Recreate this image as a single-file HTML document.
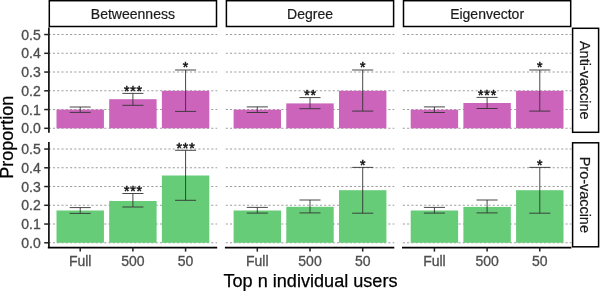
<!DOCTYPE html><html><head><meta charset="utf-8"><style>html,body{margin:0;padding:0;background:#fff;width:600px;height:291px;overflow:hidden}svg{display:block}text{font-family:"Liberation Sans",Arial,sans-serif}</style></head><body>
<svg width="600" height="291" viewBox="0 0 600 291">
<line x1="48.60" y1="128.30" x2="217.20" y2="128.30" stroke="#9e9e9e" stroke-width="1.1" stroke-dasharray="2.14 2.14"/>
<line x1="48.60" y1="109.55" x2="217.20" y2="109.55" stroke="#9e9e9e" stroke-width="1.1" stroke-dasharray="2.14 2.14"/>
<line x1="48.60" y1="90.80" x2="217.20" y2="90.80" stroke="#9e9e9e" stroke-width="1.1" stroke-dasharray="2.14 2.14"/>
<line x1="48.60" y1="72.05" x2="217.20" y2="72.05" stroke="#9e9e9e" stroke-width="1.1" stroke-dasharray="2.14 2.14"/>
<line x1="48.60" y1="53.30" x2="217.20" y2="53.30" stroke="#9e9e9e" stroke-width="1.1" stroke-dasharray="2.14 2.14"/>
<line x1="48.60" y1="34.55" x2="217.20" y2="34.55" stroke="#9e9e9e" stroke-width="1.1" stroke-dasharray="2.14 2.14"/>
<line x1="225.70" y1="128.30" x2="394.30" y2="128.30" stroke="#9e9e9e" stroke-width="1.1" stroke-dasharray="2.14 2.14"/>
<line x1="225.70" y1="109.55" x2="394.30" y2="109.55" stroke="#9e9e9e" stroke-width="1.1" stroke-dasharray="2.14 2.14"/>
<line x1="225.70" y1="90.80" x2="394.30" y2="90.80" stroke="#9e9e9e" stroke-width="1.1" stroke-dasharray="2.14 2.14"/>
<line x1="225.70" y1="72.05" x2="394.30" y2="72.05" stroke="#9e9e9e" stroke-width="1.1" stroke-dasharray="2.14 2.14"/>
<line x1="225.70" y1="53.30" x2="394.30" y2="53.30" stroke="#9e9e9e" stroke-width="1.1" stroke-dasharray="2.14 2.14"/>
<line x1="225.70" y1="34.55" x2="394.30" y2="34.55" stroke="#9e9e9e" stroke-width="1.1" stroke-dasharray="2.14 2.14"/>
<line x1="402.80" y1="128.30" x2="571.40" y2="128.30" stroke="#9e9e9e" stroke-width="1.1" stroke-dasharray="2.14 2.14"/>
<line x1="402.80" y1="109.55" x2="571.40" y2="109.55" stroke="#9e9e9e" stroke-width="1.1" stroke-dasharray="2.14 2.14"/>
<line x1="402.80" y1="90.80" x2="571.40" y2="90.80" stroke="#9e9e9e" stroke-width="1.1" stroke-dasharray="2.14 2.14"/>
<line x1="402.80" y1="72.05" x2="571.40" y2="72.05" stroke="#9e9e9e" stroke-width="1.1" stroke-dasharray="2.14 2.14"/>
<line x1="402.80" y1="53.30" x2="571.40" y2="53.30" stroke="#9e9e9e" stroke-width="1.1" stroke-dasharray="2.14 2.14"/>
<line x1="402.80" y1="34.55" x2="571.40" y2="34.55" stroke="#9e9e9e" stroke-width="1.1" stroke-dasharray="2.14 2.14"/>
<line x1="48.60" y1="242.80" x2="217.20" y2="242.80" stroke="#9e9e9e" stroke-width="1.1" stroke-dasharray="2.14 2.14"/>
<line x1="48.60" y1="224.05" x2="217.20" y2="224.05" stroke="#9e9e9e" stroke-width="1.1" stroke-dasharray="2.14 2.14"/>
<line x1="48.60" y1="205.30" x2="217.20" y2="205.30" stroke="#9e9e9e" stroke-width="1.1" stroke-dasharray="2.14 2.14"/>
<line x1="48.60" y1="186.55" x2="217.20" y2="186.55" stroke="#9e9e9e" stroke-width="1.1" stroke-dasharray="2.14 2.14"/>
<line x1="48.60" y1="167.80" x2="217.20" y2="167.80" stroke="#9e9e9e" stroke-width="1.1" stroke-dasharray="2.14 2.14"/>
<line x1="48.60" y1="149.05" x2="217.20" y2="149.05" stroke="#9e9e9e" stroke-width="1.1" stroke-dasharray="2.14 2.14"/>
<line x1="225.70" y1="242.80" x2="394.30" y2="242.80" stroke="#9e9e9e" stroke-width="1.1" stroke-dasharray="2.14 2.14"/>
<line x1="225.70" y1="224.05" x2="394.30" y2="224.05" stroke="#9e9e9e" stroke-width="1.1" stroke-dasharray="2.14 2.14"/>
<line x1="225.70" y1="205.30" x2="394.30" y2="205.30" stroke="#9e9e9e" stroke-width="1.1" stroke-dasharray="2.14 2.14"/>
<line x1="225.70" y1="186.55" x2="394.30" y2="186.55" stroke="#9e9e9e" stroke-width="1.1" stroke-dasharray="2.14 2.14"/>
<line x1="225.70" y1="167.80" x2="394.30" y2="167.80" stroke="#9e9e9e" stroke-width="1.1" stroke-dasharray="2.14 2.14"/>
<line x1="225.70" y1="149.05" x2="394.30" y2="149.05" stroke="#9e9e9e" stroke-width="1.1" stroke-dasharray="2.14 2.14"/>
<line x1="402.80" y1="242.80" x2="571.40" y2="242.80" stroke="#9e9e9e" stroke-width="1.1" stroke-dasharray="2.14 2.14"/>
<line x1="402.80" y1="224.05" x2="571.40" y2="224.05" stroke="#9e9e9e" stroke-width="1.1" stroke-dasharray="2.14 2.14"/>
<line x1="402.80" y1="205.30" x2="571.40" y2="205.30" stroke="#9e9e9e" stroke-width="1.1" stroke-dasharray="2.14 2.14"/>
<line x1="402.80" y1="186.55" x2="571.40" y2="186.55" stroke="#9e9e9e" stroke-width="1.1" stroke-dasharray="2.14 2.14"/>
<line x1="402.80" y1="167.80" x2="571.40" y2="167.80" stroke="#9e9e9e" stroke-width="1.1" stroke-dasharray="2.14 2.14"/>
<line x1="402.80" y1="149.05" x2="571.40" y2="149.05" stroke="#9e9e9e" stroke-width="1.1" stroke-dasharray="2.14 2.14"/>
<rect x="56.50" y="109.60" width="47.42" height="18.70" fill="#CC64BC"/>
<rect x="109.19" y="99.20" width="47.42" height="29.10" fill="#CC64BC"/>
<rect x="161.88" y="90.80" width="47.42" height="37.50" fill="#CC64BC"/>
<rect x="233.60" y="109.70" width="47.42" height="18.60" fill="#CC64BC"/>
<rect x="286.29" y="103.40" width="47.42" height="24.90" fill="#CC64BC"/>
<rect x="338.98" y="90.80" width="47.42" height="37.50" fill="#CC64BC"/>
<rect x="410.70" y="109.70" width="47.42" height="18.60" fill="#CC64BC"/>
<rect x="463.39" y="103.00" width="47.42" height="25.30" fill="#CC64BC"/>
<rect x="516.08" y="90.80" width="47.42" height="37.50" fill="#CC64BC"/>
<rect x="56.50" y="210.50" width="47.42" height="32.30" fill="#66CC78"/>
<rect x="109.19" y="201.00" width="47.42" height="41.80" fill="#66CC78"/>
<rect x="161.88" y="175.50" width="47.42" height="67.30" fill="#66CC78"/>
<rect x="233.60" y="210.50" width="47.42" height="32.30" fill="#66CC78"/>
<rect x="286.29" y="206.80" width="47.42" height="36.00" fill="#66CC78"/>
<rect x="338.98" y="190.20" width="47.42" height="52.60" fill="#66CC78"/>
<rect x="410.70" y="210.50" width="47.42" height="32.30" fill="#66CC78"/>
<rect x="463.39" y="206.90" width="47.42" height="35.90" fill="#66CC78"/>
<rect x="516.08" y="190.20" width="47.42" height="52.60" fill="#66CC78"/>
<path d="M69.67 107.00H90.75M80.21 107.00V112.40M69.67 112.40H90.75" stroke="#333" stroke-width="0.9" fill="none"/>
<path d="M122.36 93.40H143.44M132.90 93.40V105.30M122.36 105.30H143.44" stroke="#333" stroke-width="0.9" fill="none"/>
<text x="133.33" y="95.68" font-size="14" letter-spacing="0.85" text-anchor="middle" fill="#111" stroke="#111" stroke-width="0.5">***</text>
<path d="M175.05 70.00H196.12M185.59 70.00V111.40M175.05 111.40H196.12" stroke="#333" stroke-width="0.9" fill="none"/>
<text x="186.01" y="72.28" font-size="14" letter-spacing="0.85" text-anchor="middle" fill="#111" stroke="#111" stroke-width="0.5">*</text>
<path d="M246.78 106.90H267.85M257.31 106.90V112.50M246.78 112.50H267.85" stroke="#333" stroke-width="0.9" fill="none"/>
<path d="M299.46 97.60H320.54M310.00 97.60V108.70M299.46 108.70H320.54" stroke="#333" stroke-width="0.9" fill="none"/>
<text x="310.43" y="99.88" font-size="14" letter-spacing="0.85" text-anchor="middle" fill="#111" stroke="#111" stroke-width="0.5">**</text>
<path d="M352.15 70.00H373.23M362.69 70.00V111.10M352.15 111.10H373.23" stroke="#333" stroke-width="0.9" fill="none"/>
<text x="363.11" y="72.28" font-size="14" letter-spacing="0.85" text-anchor="middle" fill="#111" stroke="#111" stroke-width="0.5">*</text>
<path d="M423.88 106.90H444.95M434.41 106.90V112.50M423.88 112.50H444.95" stroke="#333" stroke-width="0.9" fill="none"/>
<path d="M476.56 97.40H497.64M487.10 97.40V108.50M476.56 108.50H497.64" stroke="#333" stroke-width="0.9" fill="none"/>
<text x="487.53" y="99.68" font-size="14" letter-spacing="0.85" text-anchor="middle" fill="#111" stroke="#111" stroke-width="0.5">***</text>
<path d="M529.25 70.00H550.33M539.79 70.00V111.10M529.25 111.10H550.33" stroke="#333" stroke-width="0.9" fill="none"/>
<text x="540.21" y="72.28" font-size="14" letter-spacing="0.85" text-anchor="middle" fill="#111" stroke="#111" stroke-width="0.5">*</text>
<path d="M69.67 207.60H90.75M80.21 207.60V213.40M69.67 213.40H90.75" stroke="#333" stroke-width="0.9" fill="none"/>
<path d="M122.36 193.50H143.44M132.90 193.50V207.00M122.36 207.00H143.44" stroke="#333" stroke-width="0.9" fill="none"/>
<text x="133.33" y="195.78" font-size="14" letter-spacing="0.85" text-anchor="middle" fill="#111" stroke="#111" stroke-width="0.5">***</text>
<path d="M175.05 150.30H196.12M185.59 150.30V200.30M175.05 200.30H196.12" stroke="#333" stroke-width="0.9" fill="none"/>
<text x="186.01" y="152.58" font-size="14" letter-spacing="0.85" text-anchor="middle" fill="#111" stroke="#111" stroke-width="0.5">***</text>
<path d="M246.78 207.40H267.85M257.31 207.40V213.10M246.78 213.10H267.85" stroke="#333" stroke-width="0.9" fill="none"/>
<path d="M299.46 200.00H320.54M310.00 200.00V212.90M299.46 212.90H320.54" stroke="#333" stroke-width="0.9" fill="none"/>
<path d="M352.15 167.40H373.23M362.69 167.40V213.20M352.15 213.20H373.23" stroke="#333" stroke-width="0.9" fill="none"/>
<text x="363.11" y="169.68" font-size="14" letter-spacing="0.85" text-anchor="middle" fill="#111" stroke="#111" stroke-width="0.5">*</text>
<path d="M423.88 207.40H444.95M434.41 207.40V213.10M423.88 213.10H444.95" stroke="#333" stroke-width="0.9" fill="none"/>
<path d="M476.56 200.00H497.64M487.10 200.00V212.90M476.56 212.90H497.64" stroke="#333" stroke-width="0.9" fill="none"/>
<path d="M529.25 167.40H550.33M539.79 167.40V213.20M529.25 213.20H550.33" stroke="#333" stroke-width="0.9" fill="none"/>
<text x="540.21" y="169.68" font-size="14" letter-spacing="0.85" text-anchor="middle" fill="#111" stroke="#111" stroke-width="0.5">*</text>
<line x1="48.9" y1="27.40" x2="48.9" y2="132.80" stroke="#000" stroke-width="1.6"/>
<line x1="44.2" y1="128.30" x2="48.6" y2="128.30" stroke="#222" stroke-width="1.5"/>
<text x="40.8" y="133.30" font-size="14" text-anchor="end" fill="#4D4D4D" stroke="#4D4D4D" stroke-width="0.3">0.0</text>
<line x1="44.2" y1="109.55" x2="48.6" y2="109.55" stroke="#222" stroke-width="1.5"/>
<text x="40.8" y="114.55" font-size="14" text-anchor="end" fill="#4D4D4D" stroke="#4D4D4D" stroke-width="0.3">0.1</text>
<line x1="44.2" y1="90.80" x2="48.6" y2="90.80" stroke="#222" stroke-width="1.5"/>
<text x="40.8" y="95.80" font-size="14" text-anchor="end" fill="#4D4D4D" stroke="#4D4D4D" stroke-width="0.3">0.2</text>
<line x1="44.2" y1="72.05" x2="48.6" y2="72.05" stroke="#222" stroke-width="1.5"/>
<text x="40.8" y="77.05" font-size="14" text-anchor="end" fill="#4D4D4D" stroke="#4D4D4D" stroke-width="0.3">0.3</text>
<line x1="44.2" y1="53.30" x2="48.6" y2="53.30" stroke="#222" stroke-width="1.5"/>
<text x="40.8" y="58.30" font-size="14" text-anchor="end" fill="#4D4D4D" stroke="#4D4D4D" stroke-width="0.3">0.4</text>
<line x1="44.2" y1="34.55" x2="48.6" y2="34.55" stroke="#222" stroke-width="1.5"/>
<text x="40.8" y="39.55" font-size="14" text-anchor="end" fill="#4D4D4D" stroke="#4D4D4D" stroke-width="0.3">0.5</text>
<line x1="48.9" y1="141.90" x2="48.9" y2="247.30" stroke="#000" stroke-width="1.6"/>
<line x1="44.2" y1="242.80" x2="48.6" y2="242.80" stroke="#222" stroke-width="1.5"/>
<text x="40.8" y="247.80" font-size="14" text-anchor="end" fill="#4D4D4D" stroke="#4D4D4D" stroke-width="0.3">0.0</text>
<line x1="44.2" y1="224.05" x2="48.6" y2="224.05" stroke="#222" stroke-width="1.5"/>
<text x="40.8" y="229.05" font-size="14" text-anchor="end" fill="#4D4D4D" stroke="#4D4D4D" stroke-width="0.3">0.1</text>
<line x1="44.2" y1="205.30" x2="48.6" y2="205.30" stroke="#222" stroke-width="1.5"/>
<text x="40.8" y="210.30" font-size="14" text-anchor="end" fill="#4D4D4D" stroke="#4D4D4D" stroke-width="0.3">0.2</text>
<line x1="44.2" y1="186.55" x2="48.6" y2="186.55" stroke="#222" stroke-width="1.5"/>
<text x="40.8" y="191.55" font-size="14" text-anchor="end" fill="#4D4D4D" stroke="#4D4D4D" stroke-width="0.3">0.3</text>
<line x1="44.2" y1="167.80" x2="48.6" y2="167.80" stroke="#222" stroke-width="1.5"/>
<text x="40.8" y="172.80" font-size="14" text-anchor="end" fill="#4D4D4D" stroke="#4D4D4D" stroke-width="0.3">0.4</text>
<line x1="44.2" y1="149.05" x2="48.6" y2="149.05" stroke="#222" stroke-width="1.5"/>
<text x="40.8" y="154.05" font-size="14" text-anchor="end" fill="#4D4D4D" stroke="#4D4D4D" stroke-width="0.3">0.5</text>
<line x1="47.80" y1="247.6" x2="217.20" y2="247.6" stroke="#000" stroke-width="1.6"/>
<line x1="80.21" y1="247.6" x2="80.21" y2="251.6" stroke="#222" stroke-width="1.5"/>
<text x="80.21" y="265.9" font-size="14" text-anchor="middle" fill="#4D4D4D" stroke="#4D4D4D" stroke-width="0.3">Full</text>
<line x1="132.90" y1="247.6" x2="132.90" y2="251.6" stroke="#222" stroke-width="1.5"/>
<text x="132.90" y="265.9" font-size="14" text-anchor="middle" fill="#4D4D4D" stroke="#4D4D4D" stroke-width="0.3">500</text>
<line x1="185.59" y1="247.6" x2="185.59" y2="251.6" stroke="#222" stroke-width="1.5"/>
<text x="185.59" y="265.9" font-size="14" text-anchor="middle" fill="#4D4D4D" stroke="#4D4D4D" stroke-width="0.3">50</text>
<line x1="224.90" y1="247.6" x2="394.30" y2="247.6" stroke="#000" stroke-width="1.6"/>
<line x1="257.31" y1="247.6" x2="257.31" y2="251.6" stroke="#222" stroke-width="1.5"/>
<text x="257.31" y="265.9" font-size="14" text-anchor="middle" fill="#4D4D4D" stroke="#4D4D4D" stroke-width="0.3">Full</text>
<line x1="310.00" y1="247.6" x2="310.00" y2="251.6" stroke="#222" stroke-width="1.5"/>
<text x="310.00" y="265.9" font-size="14" text-anchor="middle" fill="#4D4D4D" stroke="#4D4D4D" stroke-width="0.3">500</text>
<line x1="362.69" y1="247.6" x2="362.69" y2="251.6" stroke="#222" stroke-width="1.5"/>
<text x="362.69" y="265.9" font-size="14" text-anchor="middle" fill="#4D4D4D" stroke="#4D4D4D" stroke-width="0.3">50</text>
<line x1="402.00" y1="247.6" x2="571.40" y2="247.6" stroke="#000" stroke-width="1.6"/>
<line x1="434.41" y1="247.6" x2="434.41" y2="251.6" stroke="#222" stroke-width="1.5"/>
<text x="434.41" y="265.9" font-size="14" text-anchor="middle" fill="#4D4D4D" stroke="#4D4D4D" stroke-width="0.3">Full</text>
<line x1="487.10" y1="247.6" x2="487.10" y2="251.6" stroke="#222" stroke-width="1.5"/>
<text x="487.10" y="265.9" font-size="14" text-anchor="middle" fill="#4D4D4D" stroke="#4D4D4D" stroke-width="0.3">500</text>
<line x1="539.79" y1="247.6" x2="539.79" y2="251.6" stroke="#222" stroke-width="1.5"/>
<text x="539.79" y="265.9" font-size="14" text-anchor="middle" fill="#4D4D4D" stroke="#4D4D4D" stroke-width="0.3">50</text>
<rect x="49.30" y="0.7" width="167.20" height="25.8" fill="#fff" stroke="#000" stroke-width="1.5"/>
<text x="132.90" y="19.1" font-size="14" text-anchor="middle" fill="#1A1A1A" stroke="#1A1A1A" stroke-width="0.2">Betweenness</text>
<rect x="226.40" y="0.7" width="167.20" height="25.8" fill="#fff" stroke="#000" stroke-width="1.5"/>
<text x="310.00" y="19.1" font-size="14" text-anchor="middle" fill="#1A1A1A" stroke="#1A1A1A" stroke-width="0.2">Degree</text>
<rect x="403.50" y="0.7" width="167.20" height="25.8" fill="#fff" stroke="#000" stroke-width="1.5"/>
<text x="487.10" y="19.1" font-size="14" text-anchor="middle" fill="#1A1A1A" stroke="#1A1A1A" stroke-width="0.2">Eigenvector</text>
<rect x="572.6" y="28.30" width="26" height="104.00" fill="#fff" stroke="#000" stroke-width="1.5"/>
<text transform="translate(580.4 80.30) rotate(90)" x="0" y="0" font-size="14.45" text-anchor="middle" fill="#1A1A1A" stroke="#1A1A1A" stroke-width="0.2">Anti-vaccine</text>
<rect x="572.6" y="142.80" width="26" height="104.00" fill="#fff" stroke="#000" stroke-width="1.5"/>
<text transform="translate(580.4 194.80) rotate(90)" x="0" y="0" font-size="14.45" text-anchor="middle" fill="#1A1A1A" stroke="#1A1A1A" stroke-width="0.2">Pro-vaccine</text>
<text transform="translate(13.1 137.2) rotate(-90)" font-size="18" text-anchor="middle" fill="#000" stroke="#000" stroke-width="0.25">Proportion</text>
<text x="310.5" y="286.6" font-size="18.1" text-anchor="middle" fill="#000" stroke="#000" stroke-width="0.25">Top n individual users</text>
</svg></body></html>
